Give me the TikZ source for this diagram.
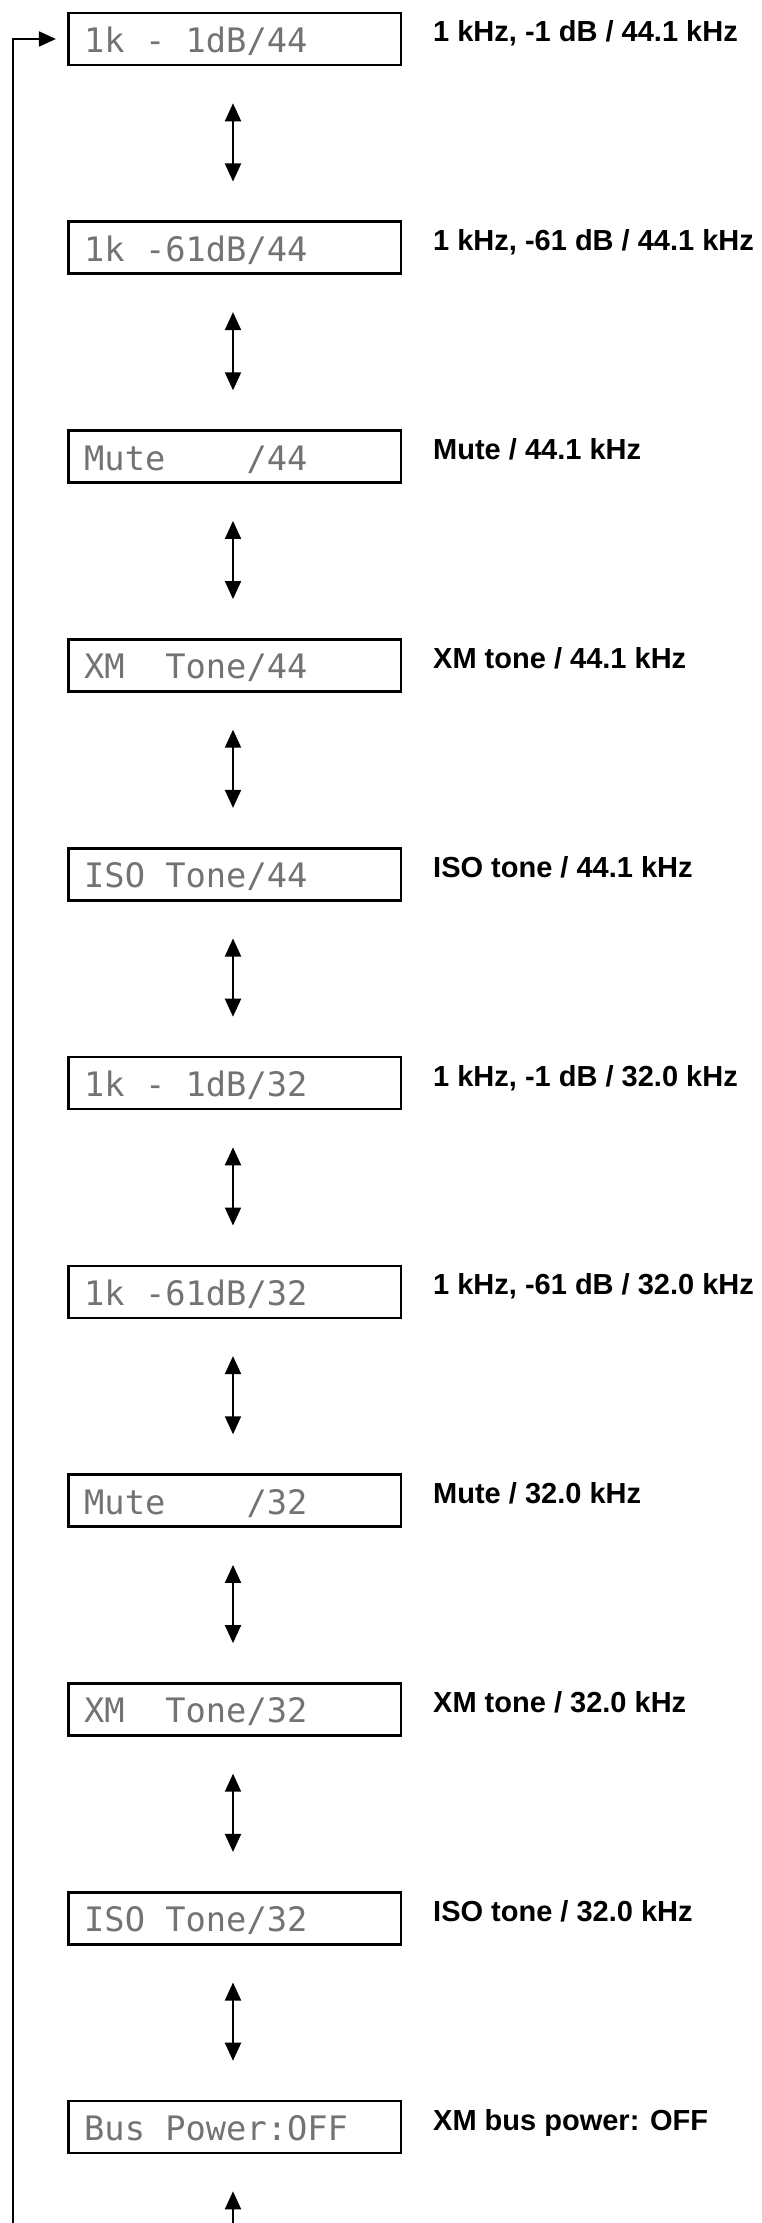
\documentclass[tikz,border=0pt]{standalone}
\usepackage{fontspec}
\setmainfont{Liberation Sans}
\newfontfamily\lcdfont{DejaVu Sans Mono}[WordSpace={1,0,0}]
\usetikzlibrary{arrows.meta}
\tikzset{
  lcdbox/.style={draw=black, line width=2.6pt, fill=white, minimum width=332.6pt, minimum height=52pt, inner sep=0pt},
  lcdtxt/.style={inner sep=0pt, text=black!55, font=\lcdfont\fontsize{33.7pt}{36pt}\selectfont},
  desc/.style={inner sep=0pt, font=\bfseries\fontsize{29pt}{32pt}\selectfont},
  updown/.style={line width=2pt, {Triangle[length=18pt,width=16pt]}-{Triangle[length=18pt,width=16pt]}},
  upone/.style={line width=2pt, -{Triangle[length=18pt,width=16pt]}},
  loopline/.style={line width=2pt, -{Triangle[length=17pt,width=15pt]}}
}
\newcommand{\DispRow}[4]{%
  \node[lcdbox] (#1) at (234.5,-#2) {};
  \node[lcdtxt, anchor=base west] (#1t) at (84,-#2-13.5) {#3};
  \node[desc, anchor=base west] (#1d) at (433,-#2-3) {#4};
}
\begin{document}
\begin{tikzpicture}[x=1pt,y=1pt]
\useasboundingbox (0,0) rectangle (761,-2223);
\DispRow{b1}{39}{1k - 1dB/44}{1 kHz, -1 dB / 44.1 kHz}
\DispRow{b2}{247.8}{1k -61dB/44}{1 kHz, -61 dB / 44.1 kHz}
\DispRow{b3}{456.6}{Mute\ \ \ \ /44}{Mute / 44.1 kHz}
\DispRow{b4}{665.4}{XM\ \ Tone/44}{XM tone / 44.1 kHz}
\DispRow{b5}{874.2}{ISO Tone/44}{ISO tone / 44.1 kHz}
\DispRow{b6}{1083}{1k - 1dB/32}{1 kHz, -1 dB / 32.0 kHz}
\DispRow{b7}{1291.8}{1k -61dB/32}{1 kHz, -61 dB / 32.0 kHz}
\DispRow{b8}{1500.6}{Mute\ \ \ \ /32}{Mute / 32.0 kHz}
\DispRow{b9}{1709.4}{XM\ \ Tone/32}{XM tone / 32.0 kHz}
\DispRow{b10}{1918.2}{ISO Tone/32}{ISO tone / 32.0 kHz}
\DispRow{b11}{2127}{Bus Power:OFF}{XM bus power: OFF}
\foreach \a/\b in {b1/b2,b2/b3,b3/b4,b4/b5,b5/b6,b6/b7,b7/b8,b8/b9,b9/b10,b10/b11}{
  \draw[updown, shorten <=37pt, shorten >=39pt] ([xshift=-1.5pt]\a.south) -- ([xshift=-1.5pt]\b.north);
}
\coordinate (bot) at (233,-2223);
\draw[upone, shorten >=37pt] (bot) -- ([xshift=-1.5pt]b11.south);
\coordinate (loopstart) at (13,-2223);
\draw[loopline, shorten >=11pt] (loopstart) |- (b1.west);
\end{tikzpicture}
\end{document}
